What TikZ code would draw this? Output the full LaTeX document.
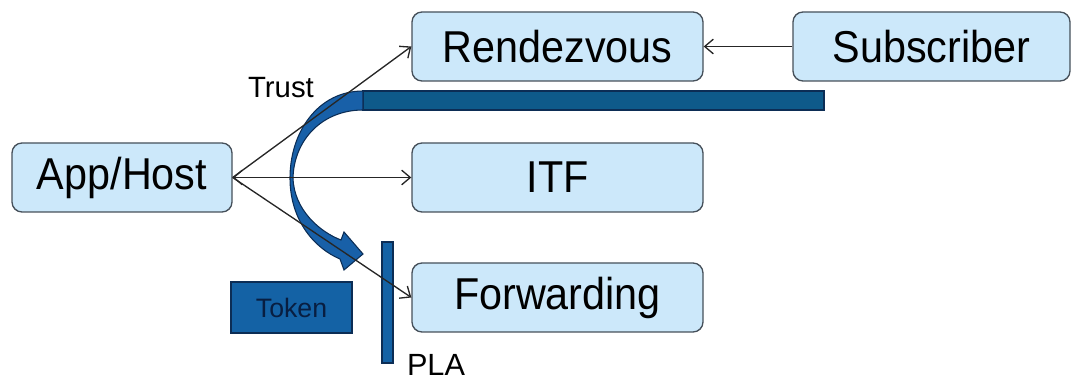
\documentclass[tikz,border=0pt]{standalone}
\usepackage{fontspec}
\setmainfont{Liberation Sans}
\usetikzlibrary{arrows.meta}
\definecolor{boxfill}{RGB}{204,232,250}
\definecolor{boxline}{RGB}{70,80,90}
\definecolor{curveblue}{RGB}{24,96,168}
\definecolor{barblue}{RGB}{14,90,138}
\definecolor{tokblue}{RGB}{20,98,165}
\definecolor{darkedge}{RGB}{12,45,85}
\definecolor{toktext}{RGB}{8,30,65}
\newcommand{\tall}[1]{\scalebox{1}[1.08]{#1}}
\begin{document}
\begin{tikzpicture}[x=0.75pt,y=-0.75pt,
  compbox/.style={draw=boxline,line width=1pt,fill=boxfill,rounded corners=7.5pt,
    minimum width=218.25pt,minimum height=51.75pt,inner sep=0pt,
    font=\fontsize{31}{36}\selectfont,text=black},
  slab/.style={draw=darkedge,line width=0.8pt,inner sep=0pt},
  link/.style={draw=black!85,line width=1pt},
  tip/.style={-{Straight Barb[length=6.5pt,width=11pt]}}]
\useasboundingbox (0,0) rectangle (1076,381);

% components
\node[compbox,minimum width=165pt] (app) at (122,177.5) {\tall{App/Host}};
\node[compbox] (rv) at (557.5,46.5) {\tall{Rendezvous}};
\node[compbox,minimum width=207.75pt] (sub) at (931.5,46.5) {\tall{Subscriber}};
\node[compbox] (itf) at (557.5,177.5) {\tall{ITF}};
\node[compbox] (fw) at (557.5,297.5) {\tall{Forwarding}};

% trust bar, PLA bar and token
\node[slab,fill=barblue,minimum width=345.75pt,minimum height=14.25pt] (bar) at (593.5,100.5) {};
\node[slab,fill=tokblue,minimum width=8.25pt,minimum height=90.75pt] (pla) at (387.5,302.5) {};
\node[slab,fill=tokblue,minimum width=90.75pt,minimum height=38.25pt,
  font=\fontsize{20}{24}\selectfont,text=toktext] (tok) at (291.5,307.5) {Token};

% curved trust arrow leaving the bar
\filldraw[fill=curveblue,draw=darkedge,line width=0.8pt]
  (363,91) .. controls (318,91) and (290,132) .. (290,178)
  .. controls (290,220) and (314,248) .. (340,259)
  -- (344,270) -- (363,254) -- (344,232) -- (341,240)
  .. controls (320,232) and (294,210) .. (293,178)
  .. controls (294,140) and (322,110) .. (363,110) -- cycle;

% labels
\node[font=\fontsize{22}{26}\selectfont,text=black] (trust) at (281,88) {Trust};
\node[font=\fontsize{23}{27}\selectfont,text=black] (plalabel) at (436,365) {PLA};

% connectors
\draw[link,tip] (app.east) -- (rv.west);
\draw[link,{Straight Barb[length=6.5pt,width=11pt]}-{Straight Barb[length=6.5pt,width=11pt]}] (app.east) -- (itf.west);
\draw[link,tip] (app.east) -- (fw.west);
\draw[link,tip] (sub.west) -- (rv.east);
\end{tikzpicture}
\end{document}
